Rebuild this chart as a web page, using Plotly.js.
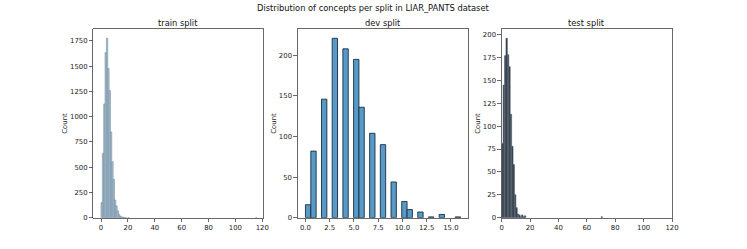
<!DOCTYPE html>
<html>
<head>
<meta charset="utf-8">
<script src="https://cdn.plot.ly/plotly-3.0.1.min.js"></script>
<style>html,body{margin:0;padding:0;background:#fff;}#chart{width:747px;height:249px;}</style>
</head>
<body>
<div id="chart"></div>
<script>
// ---- data ----
const trainValues = [0,1,2,3,4,5,6,7,8,9,10,11,12,13,14,15,16,17,18,20,115];
const trainCounts = [149,637,1126,1634,1776,1476,1258,849,555,380,175,117,68,32,14,7,4,2,1,1,1];

const devValues = [0,1,2,3,4,5,6,7,8,9,10,11,12,13,14,16];
const devCounts = [16,82,146,221,208,195,136,104,90,44,20,10,7,1,4,1];

const testValues = [0,1,2,3,4,5,6,7,8,9,10,11,12,13,14,15,16,70];
const testCounts = [81,145,177,196,178,165,113,78,58,25,11,4,3,1,3,1,2,1];

const titles = ["train split","dev split","test split"];
const suptitle = "Distribution of concepts per split in LIAR_PANTS dataset";

// dev histogram: 29 equal bins over [0,16]
const devBins = 29, devMin = 0, devMax = 16;
const devW = (devMax - devMin) / devBins;
const devLeft = devValues.map(v => devMin + Math.min(Math.floor((v - devMin) / devW), devBins - 1) * devW);

const FONT = "DejaVu Sans, sans-serif";
const W = 747, H = 249;
const axL = [93.3, 297.7, 501.7], axR = [263.3, 468.3, 672];
const yTop = 1 - 29.3 / H, yBot = 1 - 217.7 / H;

const traces = [
  {type:'bar', x: trainValues, y: trainCounts, width: 1, offset: 0,
   marker:{color:'#b3c6d4', line:{color:'#6d8ca3', width:0.6}}, xaxis:'x', yaxis:'y'},
  {type:'bar', x: devLeft, y: devCounts, width: devW, offset: 0,
   marker:{color:'#5799c7', line:{color:'#1b2f40', width:0.9}}, xaxis:'x2', yaxis:'y2'},
  {type:'bar', x: testValues, y: testCounts, width: 1, offset: 0,
   marker:{color:'#25313d', line:{color:'#5d6873', width:0.6}}, xaxis:'x3', yaxis:'y3'}
];

function xax(i, range, dtick, fmt) {
  return {domain:[axL[i]/W, axR[i]/W], range: range, dtick: dtick, tick0: 0,
    tickformat: fmt, showgrid:false, zeroline:false, showline:true, mirror:true,
    linecolor:'#444', linewidth:0.8, ticks:'outside', ticklen:3.5, tickwidth:0.8, tickcolor:'#444',
    tickfont:{family:FONT, size:6.9, color:'#222'}, anchor: i===0?'y':('y'+(i+1)), fixedrange:true};
}
function yax(i, range, dtick) {
  return {domain:[yBot, yTop], range: range, dtick: dtick, tick0: 0,
    showgrid:false, zeroline:false, showline:true, mirror:true,
    linecolor:'#444', linewidth:0.8, ticks:'outside', ticklen:3.5, tickwidth:0.8, tickcolor:'#444',
    tickfont:{family:FONT, size:6.9, color:'#222'}, anchor: i===0?'x':('x'+(i+1)),
    title:{text:'Count', font:{family:FONT, size:6.9, color:'#222'}, standoff:1}, fixedrange:true};
}

const trainMax = Math.max(...trainCounts), devMaxC = Math.max(...devCounts), testMax = Math.max(...testCounts);
const trainXmax = Math.max(...trainValues);

const layout = {
  width: W, height: H, margin:{l:0,r:0,t:0,b:0}, paper_bgcolor:'#fff', plot_bgcolor:'#fff',
  showlegend:false, bargap:0,
  xaxis: xax(0, [-0.05*trainXmax, trainXmax*1.05], 20, 'd'),
  yaxis: yax(0, [0, trainMax*1.05], 250),
  xaxis2: xax(1, [devMin-0.05*(devMax-devMin), devMax+0.05*(devMax-devMin)], 2.5, '.1f'),
  yaxis2: yax(1, [0, devMaxC*1.05], 50),
  xaxis3: xax(2, [0, 120], 20, 'd'),
  yaxis3: yax(2, [0, testMax*1.05], 25),
  annotations: [
    {text: suptitle, xref:'paper', yref:'paper', x: 0.5, y: 1 - 8.5/H, xanchor:'center', yanchor:'middle',
     showarrow:false, font:{family:FONT, size:8.3, color:'#111'}}
  ].concat(titles.map((t,i) => ({text:t, xref:'paper', yref:'paper', x:(axL[i]+axR[i])/2/W, y: 1 - 22.7/H,
     xanchor:'center', yanchor:'middle', showarrow:false, font:{family:FONT, size:8.3, color:'#111'}})))
};

Plotly.newPlot('chart', traces, layout, {staticPlot:true, displayModeBar:false});
</script>
</body>
</html>
